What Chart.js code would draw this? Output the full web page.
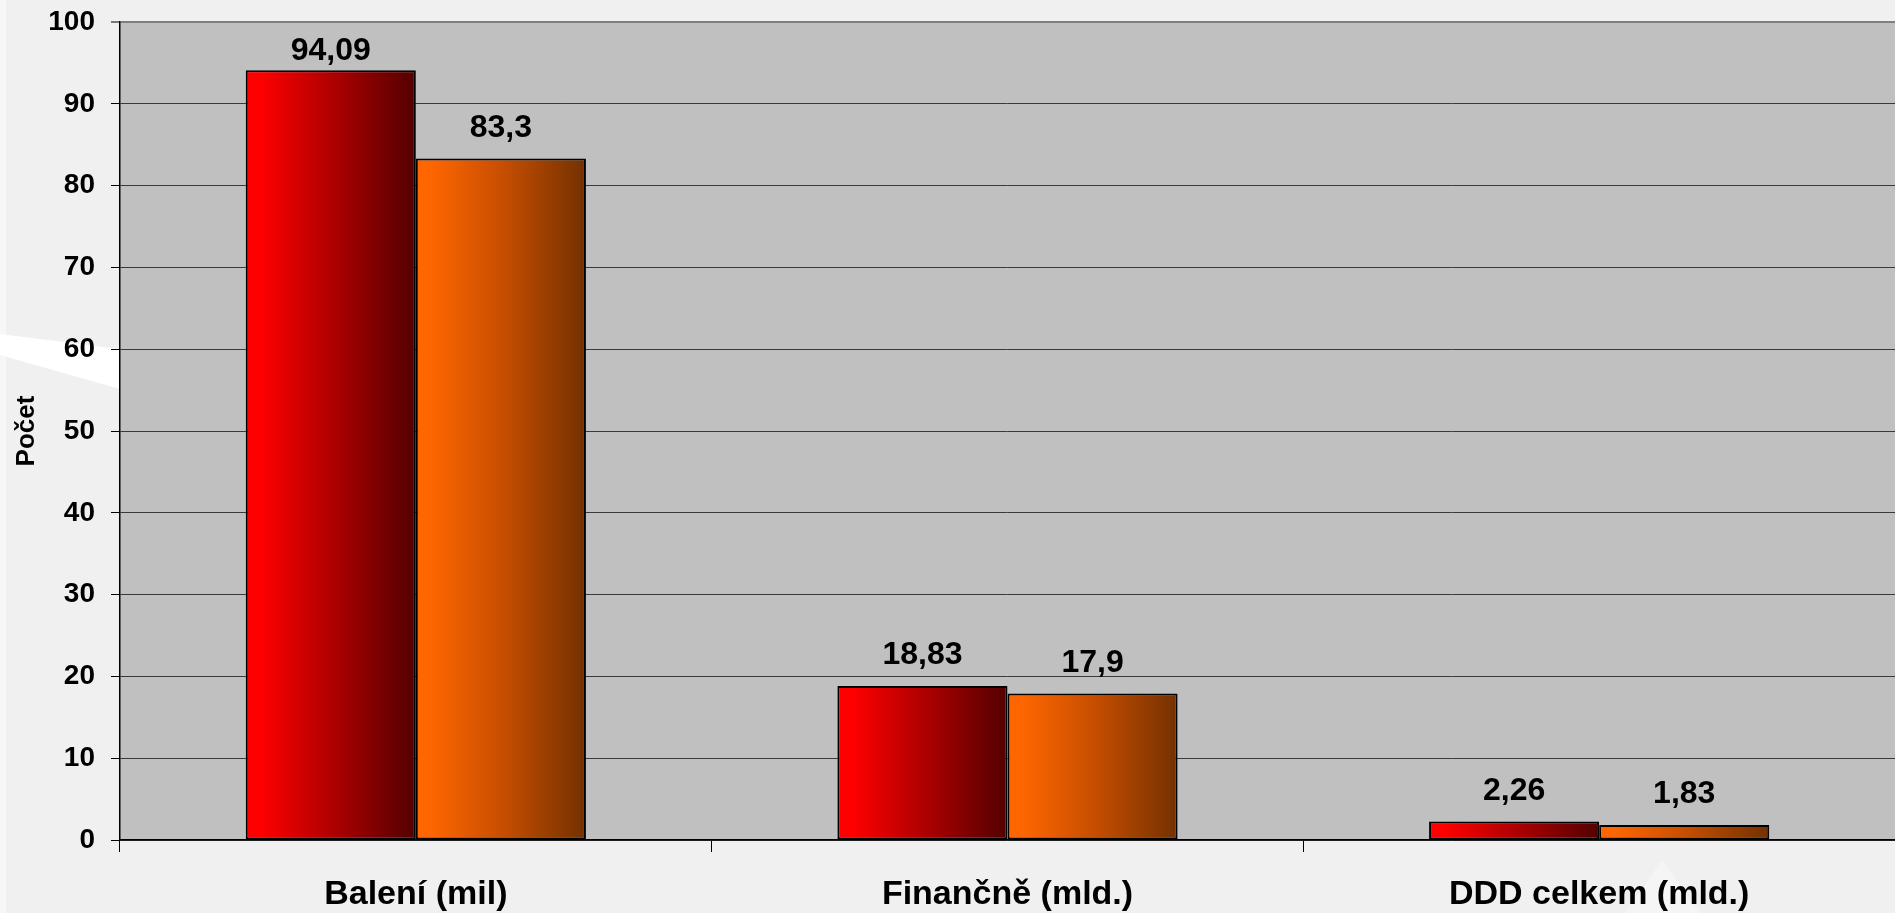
<!DOCTYPE html>
<html>
<head>
<meta charset="utf-8">
<script src="https://cdn.jsdelivr.net/npm/chart.js@4/dist/chart.umd.min.js"></script>
<style>
html,body{margin:0;padding:0;background:#f0f0f0;overflow:hidden;}
#wrap{width:1895px;height:913px;position:relative;}
canvas{display:block;}
</style>
</head>
<body>
<div id="wrap"><canvas id="c" width="1895" height="913"></canvas></div>
<script>
const categories = ["Balení (mil)", "Finančně (mld.)", "DDD celkem (mld.)"];
const seriesA = [94.09, 18.83, 2.26];
const seriesB = [83.3, 17.9, 1.83];
const yTicks = [0, 10, 20, 30, 40, 50, 60, 70, 80, 90, 100];
const yTitle = "Počet";

const FONT = "'Liberation Sans', Arial, sans-serif";

const gradStops = [
  ["#ff0000", "#b00000", "#530000"],
  ["#ff6600", "#c84f00", "#733100"]
];

const bgPlugin = {
  id: 'bg',
  beforeDraw(chart) {
    const ctx = chart.ctx;
    ctx.save();
    ctx.fillStyle = '#f0f0f0';
    ctx.fillRect(0, 0, chart.width, chart.height);
    ctx.fillStyle = '#f7f7f7';
    ctx.fillRect(0, 0, 6, chart.height);
    ctx.fillStyle = '#ffffff';
    ctx.beginPath();
    ctx.moveTo(0, 334); ctx.lineTo(120, 349); ctx.lineTo(120, 389); ctx.lineTo(0, 355);
    ctx.closePath(); ctx.fill();
    ctx.fillStyle = 'rgba(255,255,255,0.35)';
    ctx.beginPath();
    ctx.moveTo(1662, 860); ctx.lineTo(1700, 913); ctx.lineTo(1625, 913);
    ctx.closePath(); ctx.fill();
    const ca = chart.chartArea;
    ctx.fillStyle = '#c0c0c0';
    ctx.fillRect(ca.left, ca.top, ca.right - ca.left, ca.bottom - ca.top);
    ctx.restore();
  }
};

const gradPlugin = {
  id: 'grad',
  beforeDatasetsDraw(chart) {
    const ctx = chart.ctx;
    chart.data.datasets.forEach((ds, di) => {
      const meta = chart.getDatasetMeta(di);
      meta.data.forEach(el => {
        const l = el.x - el.width / 2, r = el.x + el.width / 2;
        const g = ctx.createLinearGradient(l, 0, r, 0);
        g.addColorStop(0, gradStops[di][0]);
        g.addColorStop(0.08, gradStops[di][0]);
        g.addColorStop(0.5, gradStops[di][1]);
        g.addColorStop(1, gradStops[di][2]);
        el.options = Object.assign({}, el.options, {backgroundColor: g});
      });
    });
  }
};

const labelPlugin = {
  id: 'vlabels',
  afterDatasetsDraw(chart) {
    const ctx = chart.ctx;
    ctx.save();
    ctx.font = "bold 32px " + FONT;
    ctx.fillStyle = '#000';
    ctx.textAlign = 'center';
    ctx.textBaseline = 'alphabetic';
    chart.data.datasets.forEach((ds, di) => {
      const meta = chart.getDatasetMeta(di);
      meta.data.forEach((el, i) => {
        const txt = String(ds.data[i]).replace('.', ',');
        const y = Math.max(el.y - 22, chart.chartArea.top + 38);
        ctx.fillText(txt, el.x, y);
      });
    });
    ctx.restore();
  }
};

new Chart(document.getElementById('c'), {
  type: 'bar',
  data: {
    labels: categories,
    datasets: [
      {label: 'A', data: seriesA, backgroundColor: '#ff0000'},
      {label: 'B', data: seriesB, backgroundColor: '#ff6600'}
    ]
  },
  options: {
    responsive: false,
    animation: false,
    events: [],
    layout: {padding: {top: 22, right: 0, bottom: 0, left: 0}},
    datasets: {
      bar: {
        categoryPercentage: 0.575,
        barPercentage: 1,
        borderColor: '#000',
        borderWidth: 2,
        borderSkipped: false
      }
    },
    plugins: {
      legend: {display: false},
      tooltip: {enabled: false}
    },
    scales: {
      x: {
        offset: true,
        afterFit(s) { s.height = 73; s.paddingLeft = 0; s.paddingRight = 0; },
        grid: {
          display: true, offset: true, drawOnChartArea: false,
          tickLength: 12, tickColor: '#000', tickWidth: 1
        },
        border: {display: true, color: '#000', width: 1.5},
        ticks: {
          color: '#000',
          font: {family: FONT, size: 34, weight: 'bold', lineHeight: 1},
          padding: 26,
          maxRotation: 0, autoSkip: false
        }
      },
      y: {
        min: 0, max: 100,
        afterFit(s) { s.width = 120; s.paddingTop = 10; s.paddingBottom = 10; },
        afterBuildTicks(s) { s.ticks = yTicks.map(v => ({value: v})); },
        grid: {
          color: c => (c.tick && c.tick.value === 100) ? '#7f7f7f' : '#3a3a3a',
          lineWidth: c => (c.tick && c.tick.value === 100) ? 2 : 1,
          tickLength: 9, tickColor: '#000', tickWidth: 1
        },
        border: {display: true, color: '#000', width: 1.5},
        ticks: {
          color: '#000',
          font: {family: FONT, size: 28, weight: 'bold'},
          padding: 16
        },
        title: {
          display: true, text: yTitle, color: '#000',
          font: {family: FONT, size: 26, weight: 'bold'},
          padding: {top: 11, bottom: 0}
        }
      }
    }
  },
  plugins: [bgPlugin, gradPlugin, labelPlugin]
});
</script>
</body>
</html>
